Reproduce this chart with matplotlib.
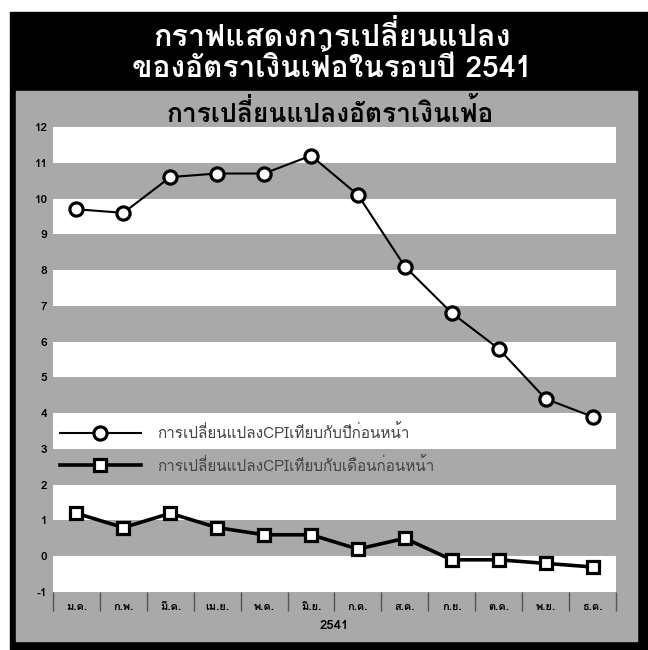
import matplotlib
matplotlib.use("Agg")
import matplotlib.pyplot as plt
from matplotlib import font_manager
from matplotlib.ft2font import FT2Font
from matplotlib.patches import Rectangle
import numpy as np

# ข้อมูล ปี 2541
months = ["ม.ค.", "ก.พ.", "มี.ค.", "เม.ย.", "พ.ค.", "มิ.ย.",
          "ก.ค.", "ส.ค.", "ก.ย.", "ต.ค.", "พ.ย.", "ธ.ค."]
cpi_yoy = [9.7, 9.6, 10.6, 10.7, 10.7, 11.2, 10.1, 8.1, 6.8, 5.8, 4.4, 3.9]
cpi_mom = [1.2, 0.8, 1.2, 0.8, 0.6, 0.6, 0.2, 0.5, -0.1, -0.1, -0.2, -0.3]
yticks = list(range(-1, 13))

label_yoy = "การเปลี่ยนแปลงCPIเทียบกับปีก่อนหน้า"
label_mom = "การเปลี่ยนแปลงCPIเทียบกับเดือนก่อนหน้า"
title1 = "กราฟแสดงการเปลี่ยนแปลง"
title2 = "ของอัตราเงินเฟ้อในรอบปี 2541"
subtitle = "การเปลี่ยนแปลงอัตราเงินเฟ้อ"
xlabel = "2541"


def find_thai_font():
    # หา font ที่มีตัวอักษรไทย
    for f in font_manager.fontManager.ttflist:
        try:
            if 0x0E01 in FT2Font(f.fname).get_charmap():
                return f.name
        except Exception:
            pass
    return None


thai = find_thai_font()
if thai:
    plt.rcParams["font.family"] = [thai, "DejaVu Sans"]

W, H = 648, 650
GRAY = "#a9a9a9"


def fx(px):
    return px / W


def fy(py):
    return 1 - py / H


fig = plt.figure(figsize=(6.48, 6.50), dpi=100)
fig.patch.set_facecolor("white")

# กรอบดำ + พื้นเทา
fig.patches.append(Rectangle((fx(10), fy(650)), fx(638), 638 / H,
                             transform=fig.transFigure, color="black", zorder=-2))
fig.patches.append(Rectangle((fx(16), fy(641)), fx(621), 550 / H,
                             transform=fig.transFigure, color=GRAY, zorder=-1))

fig.text(fx(332), fy(36), title1, color="white", fontsize=22, fontweight="bold",
         ha="center", va="center")
fig.text(fx(332), fy(67), title2, color="white", fontsize=21.5, fontweight="bold",
         ha="center", va="center")
fig.text(fx(330), fy(113), subtitle, color="black", fontsize=19, fontweight="bold",
         ha="center", va="center")

ax = fig.add_axes([fx(53), fy(592), fx(616 - 53), (592 - 127) / H])
ax.set_zorder(1)
ax.set_facecolor(GRAY)
for lo in range(-1, 12, 2):
    ax.axhspan(lo, lo + 1, color="white", lw=0, zorder=0)

x = np.arange(len(months))
ax.plot(x, cpi_yoy, color="black", lw=1.5, marker="o", ms=9.5,
        mfc="white", mec="black", mew=2.3, label=label_yoy, zorder=3)
ax.plot(x, cpi_mom, color="black", lw=2.6, marker="s", ms=8.5,
        mfc="white", mec="black", mew=2.3, label=label_mom, zorder=3)

ax.set_xlim(-0.5, len(months) - 0.5)
ax.set_ylim(-1, 12)
ax.set_yticks(yticks)
ax.set_yticklabels([str(t) for t in yticks], fontsize=8.5, fontweight="bold")
ax.tick_params(axis="y", length=0, pad=4)

ax.set_xticks(np.arange(len(months) + 1) - 0.5)
ax.set_xticklabels([])
ax.tick_params(axis="x", which="major", direction="out", length=14,
               width=1, color="#555555")
ax.set_xticks(x, minor=True)
ax.set_xticklabels(months, minor=True, fontsize=8, fontweight="bold")
ax.tick_params(axis="x", which="minor", length=0, pad=7)
ax.set_xlabel(xlabel, fontsize=9.5, fontweight="bold", labelpad=3)

for s in ax.spines.values():
    s.set_visible(False)

leg = ax.legend(loc="center left", bbox_to_anchor=(0.012, (592 - 449) / 465),
                frameon=False, fontsize=11, handlelength=5.3, labelspacing=1.0,
                borderpad=0, borderaxespad=0, handletextpad=1.05)
for t in leg.get_texts():
    t.set_color("#444444")

fig.savefig("out.png", dpi=100)
